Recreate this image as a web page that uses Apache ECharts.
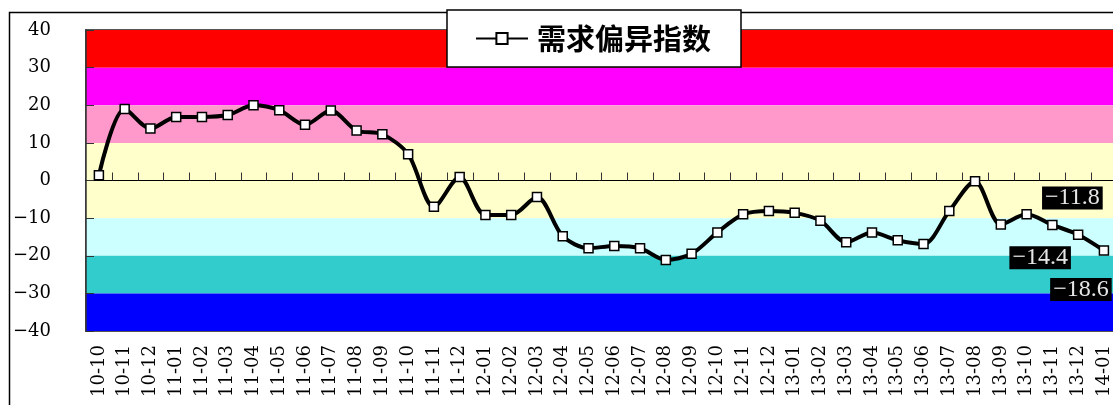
<!DOCTYPE html>
<html>
<head>
<meta charset="utf-8">
<title>需求偏异指数</title>
<script src="https://cdn.jsdelivr.net/npm/echarts@6/dist/echarts.min.js"></script>
<style>
  html, body { margin: 0; padding: 0; background: #fff; }
  #chart { width: 1113px; height: 405px; }
</style>
</head>
<body>
<div id="chart"></div>
<script>
// Months on the category axis (yy-mm)
const categories = [
  '10-10', '10-11', '10-12',
  '11-01', '11-02', '11-03', '11-04', '11-05', '11-06', '11-07', '11-08', '11-09', '11-10', '11-11', '11-12',
  '12-01', '12-02', '12-03', '12-04', '12-05', '12-06', '12-07', '12-08', '12-09', '12-10', '12-11', '12-12',
  '13-01', '13-02', '13-03', '13-04', '13-05', '13-06', '13-07', '13-08', '13-09', '13-10', '13-11', '13-12',
  '14-01'
];

// Monthly demand deviation index
const demandIndex = [
  1.4, 19.0, 13.8,
  16.9, 16.9, 17.4, 20.0, 18.7, 14.8, 18.6, 13.3, 12.3, 7.0, -7.0, 0.9,
  -9.2, -9.2, -4.4, -14.8, -18.0, -17.4, -18.0, -21.1, -19.5, -13.8, -9.0, -8.1,
  -8.6, -10.7, -16.4, -13.8, -15.9, -16.9, -8.1, -0.2, -11.7, -9.0, -11.8, -14.4,
  -18.6
];

// Months whose value is printed beside the point
const labelledMonths = ['13-11', '13-12', '14-01'];

// Y axis ticks
const yTicks = [-40, -30, -20, -10, 0, 10, 20, 30, 40];

// Background zones of the index
const bandLower  = [30, 20, 10, -10, -20, -30, -40];
const bandUpper  = [40, 30, 20, 10, -10, -20, -30];
const bandColors = ['#FF0000', '#FF00FF', '#FF99CC', '#FFFFCC', '#CCFFFF', '#33CCCC', '#0000FF'];

const seriesName = '需求偏异指数';

const minus = s => String(s).replace('-', '\u2212');

// label placement for the printed values (offset from point centre)
const labelOffsets = {
  '13-11': [20, -27],
  '13-12': [-38, 23],
  '14-01': [-23, 39]
};

const lineData = demandIndex.map((v, i) => {
  const month = categories[i];
  if (labelledMonths.indexOf(month) < 0) return v;
  return {
    value: v,
    label: {
      show: true,
      position: 'inside',
      offset: labelOffsets[month],
      formatter: p => minus(p.value.toFixed(1)),
      backgroundColor: '#000',
      color: '#e6e6e6',
      fontFamily: 'Liberation Serif',
      fontSize: 24,
      lineHeight: 23,
      padding: [0, 3, 0, 3]
    }
  };
});

const bandAreas = bandLower.map((lo, i) => [
  { yAxis: lo, itemStyle: { color: bandColors[i], opacity: 1 } },
  { yAxis: bandUpper[i] }
]);

// one tick per month, placed on the zero line at the month's right boundary
const zeroTicks = categories.map((c, i) => [i, 0]);

const plotRect = { left: 86, top: 30, width: 1030.8, height: 301 };
const yMin = yTicks[0];
const yMax = yTicks[yTicks.length - 1];

const chart = echarts.init(document.getElementById('chart'), null, { renderer: 'canvas' });

chart.setOption({
  backgroundColor: '#fff',
  animation: false,
  graphic: [{
    type: 'rect',
    left: 7, top: 10,
    shape: { width: 1300, height: 600 },
    style: { fill: null, stroke: '#000', lineWidth: 1.5 },
    z: 0
  }],
  legend: {
    data: [seriesName],
    left: 447,
    top: 10,
    padding: [14, 30, 14, 28],
    backgroundColor: '#fff',
    borderColor: '#000',
    borderWidth: 1.5,
    itemWidth: 52,
    itemHeight: 14,
    textStyle: {
      fontFamily: 'Noto Sans CJK SC',
      fontSize: 29,
      fontWeight: 'bold',
      lineHeight: 29,
      color: '#000',
      padding: [0, 0, 0, 4]
    },
    z: 10
  },
  grid: [Object.assign({
    containLabel: false,
    outerBoundsMode: 'none',
    show: true,
    borderColor: '#555',
    borderWidth: 2,
    backgroundColor: 'transparent'
  }, plotRect), Object.assign({
    // overlay grid carrying the zero line and the index line
    containLabel: false,
    outerBoundsMode: 'none',
    show: false
  }, plotRect)],
  xAxis: [{
    // month labels under the plot
    gridIndex: 0,
    type: 'category',
    data: categories,
    position: 'bottom',
    boundaryGap: true,
    axisLine: { show: false, onZero: false },
    axisTick: { show: false },
    axisLabel: {
      interval: 0,
      rotate: 90,
      margin: 14,
      color: '#000',
      fontFamily: 'DejaVu Serif',
      fontSize: 18
    },
    splitLine: { show: false },
    z: 3
  }, {
    // zero line
    gridIndex: 1,
    type: 'category',
    data: categories,
    position: 'bottom',
    boundaryGap: true,
    axisLine: { show: true, onZero: true, lineStyle: { color: '#000', width: 1 } },
    axisTick: { show: false },
    axisLabel: { show: false },
    splitLine: { show: false },
    z: 3
  }],
  yAxis: [{
    gridIndex: 0,
    type: 'value',
    min: yMin,
    max: yMax,
    interval: 10,
    axisLine: { show: true, lineStyle: { color: '#333', width: 1.5 } },
    axisTick: { show: true, inside: true, length: 8, lineStyle: { color: '#333' } },
    axisLabel: {
      margin: 35,
      color: '#000',
      fontFamily: 'DejaVu Serif',
      fontSize: 18,
      formatter: v => minus(v)
    },
    splitLine: { show: false },
    z: 3
  }, {
    gridIndex: 1,
    type: 'value',
    min: yMin,
    max: yMax,
    interval: 10,
    axisLine: { show: false },
    axisTick: { show: false },
    axisLabel: { show: false },
    splitLine: { show: false }
  }],
  series: [{
    // coloured zones behind the index line
    name: 'zones',
    type: 'line',
    xAxisIndex: 0,
    yAxisIndex: 0,
    data: demandIndex,
    symbol: 'none',
    lineStyle: { opacity: 0 },
    silent: true,
    z: 1,
    markArea: { silent: true, data: bandAreas }
  }, {
    // short upward ticks on the zero line between months
    name: 'zeroTicks',
    type: 'custom',
    xAxisIndex: 1,
    yAxisIndex: 1,
    data: zeroTicks,
    encode: { x: 0, y: 1 },
    silent: true,
    z: 4,
    renderItem: (params, api) => {
      const p = api.coord([api.value(0), api.value(1)]);
      const bandWidth = api.size([1, 0])[0];
      const x = Math.round(p[0] + bandWidth / 2) + 0.5;
      return {
        type: 'line',
        shape: { x1: x, y1: p[1], x2: x, y2: p[1] - 8 },
        style: { stroke: '#333', lineWidth: 1 }
      };
    }
  }, {
    name: seriesName,
    type: 'line',
    xAxisIndex: 1,
    yAxisIndex: 1,
    data: lineData,
    smooth: 0.3,
    symbol: 'rect',
    symbolSize: 9,
    showAllSymbol: true,
    lineStyle: { color: '#000', width: 4 },
    itemStyle: { color: '#fff', borderColor: '#000', borderWidth: 1.5 },
    z: 5
  }]
});
</script>
</body>
</html>
